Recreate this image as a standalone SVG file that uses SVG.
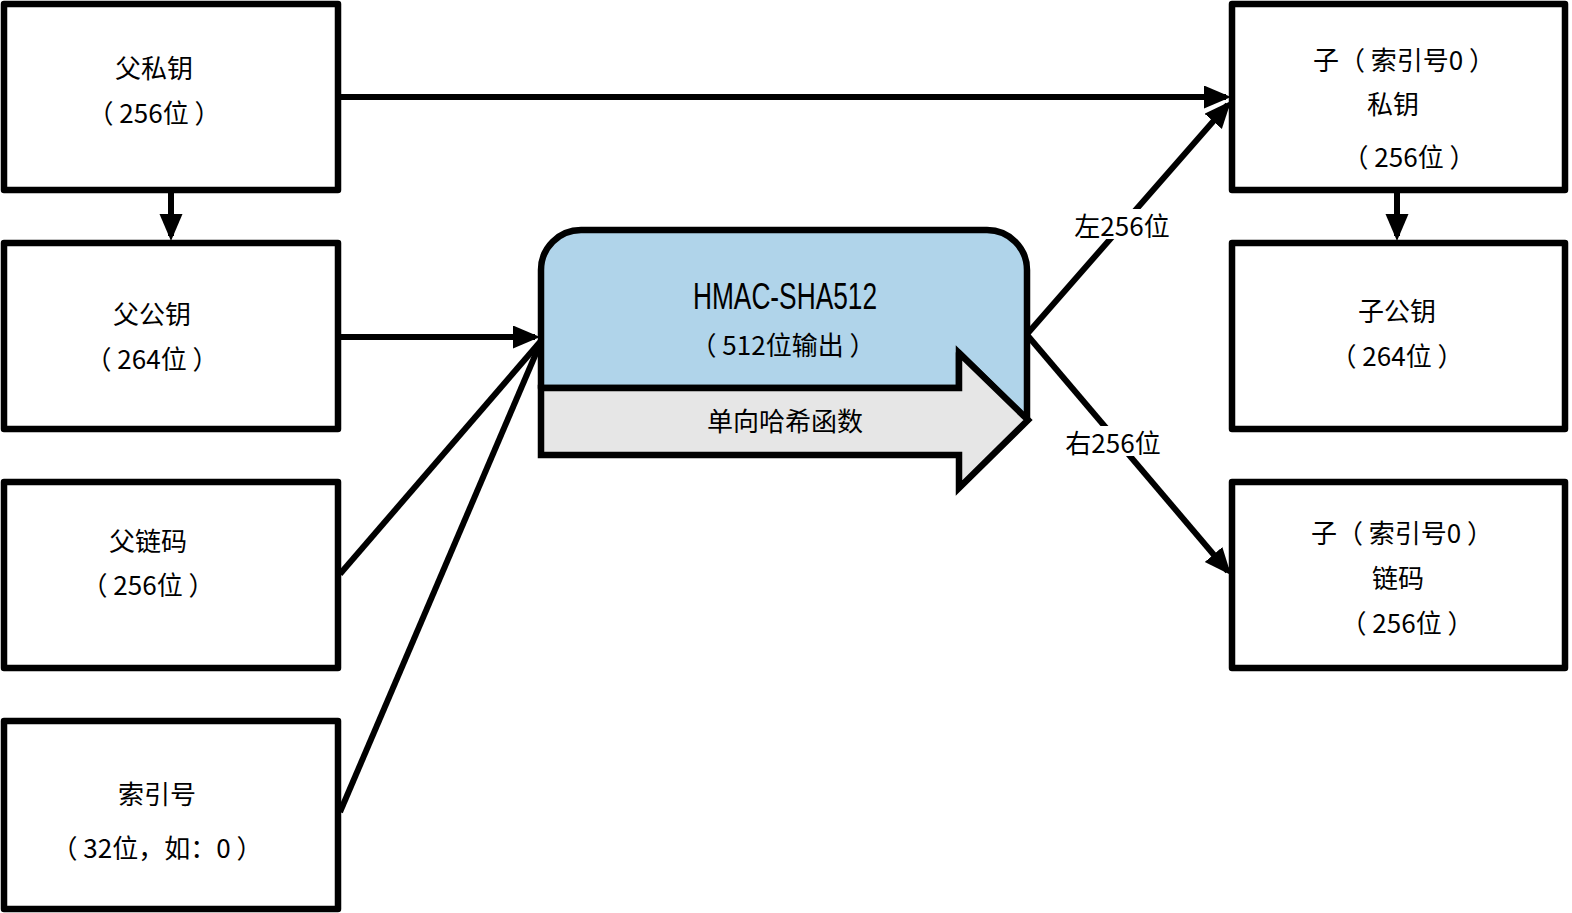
<svg xmlns="http://www.w3.org/2000/svg" width="1572" height="913" viewBox="0 0 1572 913">
<style>
.box{fill:#fff;stroke:#000;stroke-width:6.5;stroke-linejoin:round}
.t{font-family:"Noto Sans CJK SC","Noto Sans",sans-serif;font-size:26px;fill:#000;text-anchor:middle;dominant-baseline:central}
.c{fill:none;stroke:#000;stroke-width:6}
.lbl{fill:#fff}
</style>
<defs>
<marker id="ah" markerUnits="userSpaceOnUse" markerWidth="30" markerHeight="26" refX="22" refY="11.5" orient="auto">
<path d="M0,0 L27,11.5 L0,23 Z" fill="#000"/>
</marker>
</defs>
<rect width="1572" height="913" fill="#fff"/>
<g id="connectors">
<line class="c" x1="341" y1="97" x2="1226" y2="97" marker-end="url(#ah)"/>
<line class="c" x1="171" y1="193" x2="171" y2="236" marker-end="url(#ah)"/>
<line class="c" x1="1397" y1="193" x2="1397" y2="236" marker-end="url(#ah)"/>
<line class="c" x1="341" y1="337" x2="535" y2="337" marker-end="url(#ah)"/>
<line class="c" x1="340" y1="574" x2="540" y2="342"/>
<line class="c" x1="340" y1="812" x2="540" y2="344"/>
<line class="c" x1="1028" y1="333" x2="1227.7" y2="104.8" marker-end="url(#ah)"/>
<line class="c" x1="1028" y1="336" x2="1227.8" y2="571.2" marker-end="url(#ah)"/>
<rect class="lbl" x="1072" y="209" width="102" height="30"/>
<text class="t" x="1122" y="224">左256位</text>
<rect class="lbl" x="1062" y="426" width="102" height="30"/>
<text class="t" x="1113" y="441">右256位</text>
</g>
<g id="hmac">
<path d="M541,388 V270 A40,40 0 0 1 581,230 H987 A40,40 0 0 1 1027,270 V420 L959,353 V388 Z" fill="#b0d4ea" stroke="#000" stroke-width="6.5" stroke-linejoin="round"/>
<path d="M541,388 H959 V353 L1028,420 L959,488 V455 H541 Z" fill="#e6e6e6" stroke="#000" stroke-width="6.5" stroke-linejoin="miter"/>
<text x="785" y="296" font-family="Liberation Sans, sans-serif" font-size="37" text-anchor="middle" dominant-baseline="central" textLength="184" lengthAdjust="spacingAndGlyphs">HMAC-SHA512</text>
<text class="t" x="783" y="343">（ 512位输出 ）</text>
<text class="t" x="785" y="419">单向哈希函数</text>
</g>
<g id="parent-private">
<rect class="box" x="4" y="4" width="334" height="186"/>
<text class="t" x="154" y="66">父私钥</text>
<text class="t" x="154" y="111">（ 256位 ）</text>
</g>
<g id="parent-public">
<rect class="box" x="4" y="243" width="334" height="186"/>
<text class="t" x="152" y="312">父公钥</text>
<text class="t" x="152" y="357">（ 264位 ）</text>
</g>
<g id="parent-chain">
<rect class="box" x="4" y="482" width="334" height="186"/>
<text class="t" x="148" y="539">父链码</text>
<text class="t" x="148" y="583">（ 256位 ）</text>
</g>
<g id="index">
<rect class="box" x="4" y="721" width="334" height="188"/>
<text class="t" x="157" y="792">索引号</text>
<text class="t" x="157" y="846">（ 32位，如：0 ）</text>
</g>
<g id="child-private">
<rect class="box" x="1232" y="4" width="333" height="186"/>
<text class="t" x="1404" y="58">子（ 索引号0 ）</text>
<text class="t" x="1393" y="102">私钥</text>
<text class="t" x="1409" y="155">（ 256位 ）</text>
</g>
<g id="child-public">
<rect class="box" x="1232" y="243" width="333" height="186"/>
<text class="t" x="1397" y="309">子公钥</text>
<text class="t" x="1397" y="354">（ 264位 ）</text>
</g>
<g id="child-chain">
<rect class="box" x="1232" y="482" width="333" height="186"/>
<text class="t" x="1402" y="531">子（ 索引号0 ）</text>
<text class="t" x="1398" y="576">链码</text>
<text class="t" x="1407" y="621">（ 256位 ）</text>
</g>
</svg>
